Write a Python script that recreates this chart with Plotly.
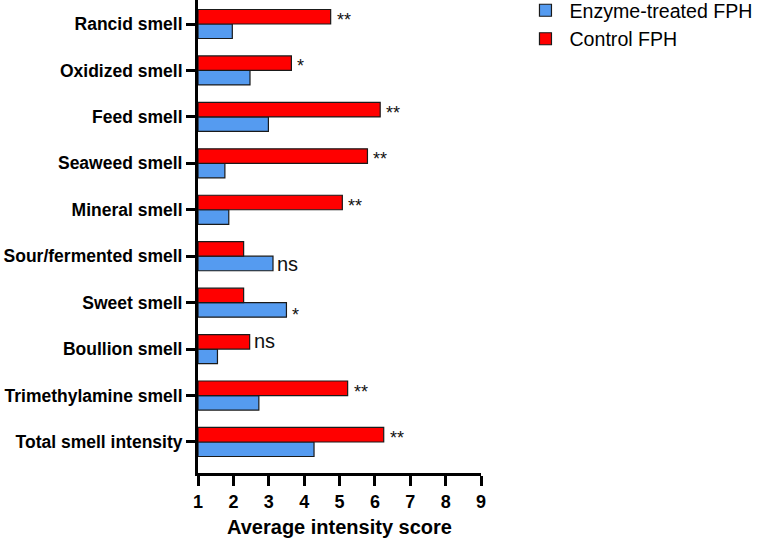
import plotly.graph_objects as go

categories = ["Rancid smell", "Oxidized smell", "Feed smell", "Seaweed smell", "Mineral smell",
              "Sour/fermented smell", "Sweet smell", "Boullion smell", "Trimethylamine smell",
              "Total smell intensity"]
enzyme = [1.97, 2.47, 2.99, 1.76, 1.87, 3.12, 3.50, 1.55, 2.72, 4.28]
control = [4.75, 3.64, 6.15, 5.79, 5.08, 2.29, 2.29, 2.46, 5.23, 6.25]
sig_labels = ["**", "*", "**", "**", "**", "ns", "*", "ns", "**", "**"]
sig_on = ["control", "control", "control", "control", "control", "enzyme", "enzyme", "control", "control", "control"]
x_ticks = [1, 2, 3, 4, 5, 6, 7, 8, 9]

cats_bottom_up = categories[::-1]
enz_bu = enzyme[::-1]
ctl_bu = control[::-1]

fig = go.Figure()
fig.add_trace(go.Bar(y=cats_bottom_up, x=[v - 1 for v in enz_bu], base=1, orientation="h",
                     name="Enzyme-treated FPH",
                     marker=dict(color="#559BF0", line=dict(color="#1a1a1a", width=1.2))))
fig.add_trace(go.Bar(y=cats_bottom_up, x=[v - 1 for v in ctl_bu], base=1, orientation="h",
                     name="Control FPH",
                     marker=dict(color="#FF0000", line=dict(color="#1a1a1a", width=1.2))))

for cat, lab, which, e, c in zip(categories, sig_labels, sig_on, enzyme, control):
    xv = c if which == "control" else e
    ys = 8 if which == "control" else -8
    if lab == "ns":
        font = dict(family="Arial, Liberation Sans", size=20, color="#111")
        ys2 = ys
    else:
        font = dict(family="Arial, Liberation Sans", size=18, color="#111")
        ys2 = ys - 4
    fig.add_annotation(x=xv, y=cat, text=lab, showarrow=False, xanchor="left",
                       xshift=2 if lab == "ns" else 4, yshift=ys2, font=font)

fig.update_layout(
    width=758, height=540,
    margin=dict(l=198, r=277, t=0, b=67, autoexpand=False),
    plot_bgcolor="white", paper_bgcolor="white",
    barmode="group", bargap=0.375, bargroupgap=0,
    font=dict(family="Arial, Liberation Sans", color="black"),
    legend=dict(x=1.143, y=1.019, xanchor="left", yanchor="top",
                font=dict(size=19.6, family="Arial, Liberation Sans"),
                traceorder="normal", itemwidth=38, tracegroupgap=0),
    showlegend=True,
)
fig.update_xaxes(range=[1, 9], tickvals=x_ticks, showline=True, linecolor="black", linewidth=3,
                 ticks="outside", ticklen=10, tickwidth=3, tickcolor="black",
                 tickfont=dict(size=18, family="Arial, Liberation Sans", weight="bold"),
                 showgrid=False, zeroline=False, automargin=False,
                 title=dict(text="<b>Average intensity score</b>", font=dict(size=20), standoff=10))
fig.update_yaxes(range=[-0.668, 9.517], showline=True, linecolor="black", linewidth=3,
                 ticks="outside", ticklen=9, tickwidth=3, tickcolor="black",
                 tickfont=dict(size=17.5, family="Arial, Liberation Sans", weight="bold"),
                 showgrid=False, ticklabelstandoff=0, automargin=False)

fig.write_html("out.html")
